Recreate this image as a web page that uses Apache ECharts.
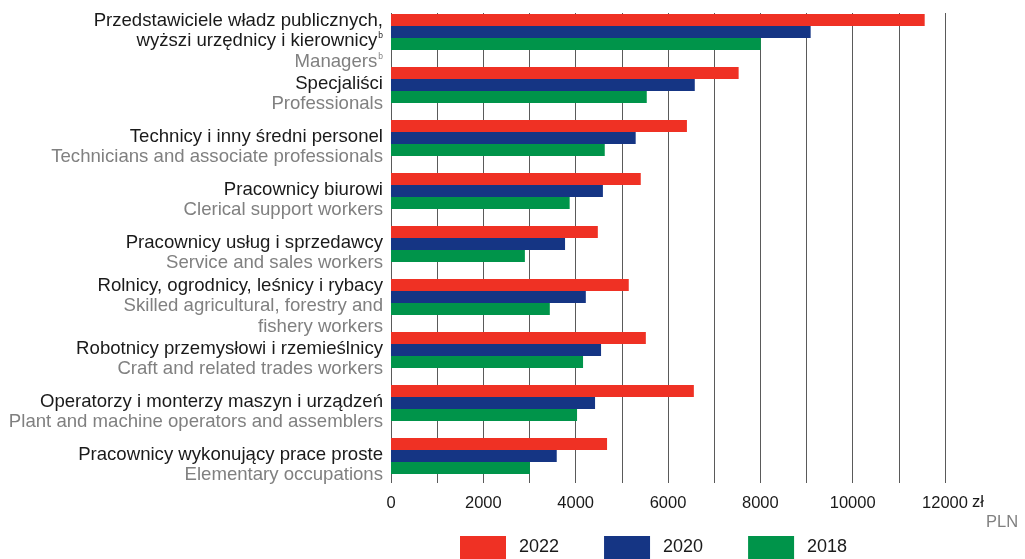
<!DOCTYPE html>
<html><head><meta charset="utf-8">
<script src="https://cdn.jsdelivr.net/npm/echarts@6/dist/echarts.min.js"></script>
<style>html,body{margin:0;padding:0;background:#fff}#c{width:1025px;height:559px}</style>
</head><body><div id="c"></div>
<script>
const categoriesPL = [
  'Przedstawiciele władz publicznych,\nwyższi urzędnicy i kierownicy',
  'Specjaliści',
  'Technicy i inny średni personel',
  'Pracownicy biurowi',
  'Pracownicy usług i sprzedawcy',
  'Rolnicy, ogrodnicy, leśnicy i rybacy',
  'Robotnicy przemysłowi i rzemieślnicy',
  'Operatorzy i monterzy maszyn i urządzeń',
  'Pracownicy wykonujący prace proste'
];
const categoriesEN = [
  'Managers',
  'Professionals',
  'Technicians and associate professionals',
  'Clerical support workers',
  'Service and sales workers',
  'Skilled agricultural, forestry and\nfishery workers',
  'Craft and related trades workers',
  'Plant and machine operators and assemblers',
  'Elementary occupations'
];
const footnotes = ['b', '', '', '', '', '', '', '', ''];
const years = ['2022', '2020', '2018'];
const values2022 = [11560, 7530, 6410, 5410, 4480, 5150, 5520, 6560, 4680];
const values2020 = [9090, 6580, 5300, 4590, 3770, 4220, 4550, 4420, 3590];
const values2018 = [8010, 5540, 4630, 3870, 2900, 3440, 4160, 4030, 3010];
const xTickLabels = [0, 2000, 4000, 6000, 8000, 10000, 12000];
const unitPL = 'zł';
const unitEN = 'PLN';

const colors = ['#ef3124', '#153584', '#00944a'];
const FONT = "'Liberation Sans', Arial, sans-serif";

function labelFor(value) {
  const i = categoriesPL.indexOf(value);
  const pl = categoriesPL[i].split('\n');
  const en = categoriesEN[i].split('\n');
  const fn = footnotes[i];
  const out = [];
  pl.forEach((l, k) => {
    let s = '{pl|' + l + '}';
    if (k === pl.length - 1 && fn) s += '{supPl|' + fn + '}';
    out.push(s);
  });
  en.forEach((l, k) => {
    let s = '{en|' + l + '}';
    if (k === en.length - 1 && fn) s += '{supEn|' + fn + '}';
    out.push(s);
  });
  return out.join('\n');
}

const chart = echarts.init(document.getElementById('c'), null, {renderer: 'canvas'});
const seriesData = [values2022, values2020, values2018];
chart.setOption({
  animation: false,
  textStyle: {fontFamily: FONT},
  grid: [
    {left: 391, right: 80, top: 5.5, height: 477, containLabel: false},
    {left: 391, right: 80, top: 13, height: 470, containLabel: false}
  ],
  legend: {
    data: years,
    icon: 'rect',
    itemWidth: 46,
    itemHeight: 23,
    itemGap: 45,
    left: 460,
    top: 536,
    padding: 0,
    textStyle: {fontSize: 18, color: '#1a1a1a', fontFamily: FONT, padding: [0, 0, 0, 8]}
  },
  xAxis: [
    {
      type: 'value', gridIndex: 0, min: 0, max: 12000, interval: 1000,
      splitLine: {show: false}, axisLine: {show: false}, axisTick: {show: false},
      axisLabel: {
        margin: 12, fontSize: 16.5, color: '#1a1a1a', fontFamily: FONT,
        formatter: v => xTickLabels.indexOf(v) >= 0 ? String(v) : ''
      }
    },
    {
      type: 'value', gridIndex: 1, min: 0, max: 12000, interval: 1000,
      splitLine: {show: true, lineStyle: {color: '#5a5a5a', width: 1}},
      axisLine: {show: false}, axisTick: {show: false}, axisLabel: {show: false}
    }
  ],
  yAxis: [
    {
      type: 'category', gridIndex: 0, inverse: true, data: categoriesPL,
      axisLine: {show: false}, axisTick: {show: false},
      axisLabel: {
        margin: 8,
        padding: [18, 0, 0, 0],
        formatter: labelFor,
        rich: {
          pl: {fontSize: 18.6, color: '#1a1a1a', lineHeight: 20.5, fontFamily: FONT},
          en: {fontSize: 18.6, color: '#808080', lineHeight: 20.5, fontFamily: FONT},
          supPl: {fontSize: 8.5, color: '#1a1a1a', padding: [0, 0, 10, 1], fontFamily: FONT},
          supEn: {fontSize: 8.5, color: '#808080', padding: [0, 0, 10, 1], fontFamily: FONT}
        }
      }
    },
    {type: 'value', gridIndex: 1, show: false, min: 0, max: 1}
  ],
  series: years.map((y, k) => ({
    name: y,
    type: 'bar',
    xAxisIndex: 0,
    yAxisIndex: 0,
    data: seriesData[k],
    barWidth: 12,
    barGap: '0%',
    itemStyle: {color: colors[k]},
    z: 3
  })),
  graphic: [
    {type: 'text', left: 972, top: 494, style: {text: unitPL, fontSize: 16.5, fill: '#1a1a1a', fontFamily: FONT}},
    {type: 'text', left: 986, top: 514, style: {text: unitEN, fontSize: 16.5, fill: '#808080', fontFamily: FONT}}
  ]
});
</script>
</body></html>
